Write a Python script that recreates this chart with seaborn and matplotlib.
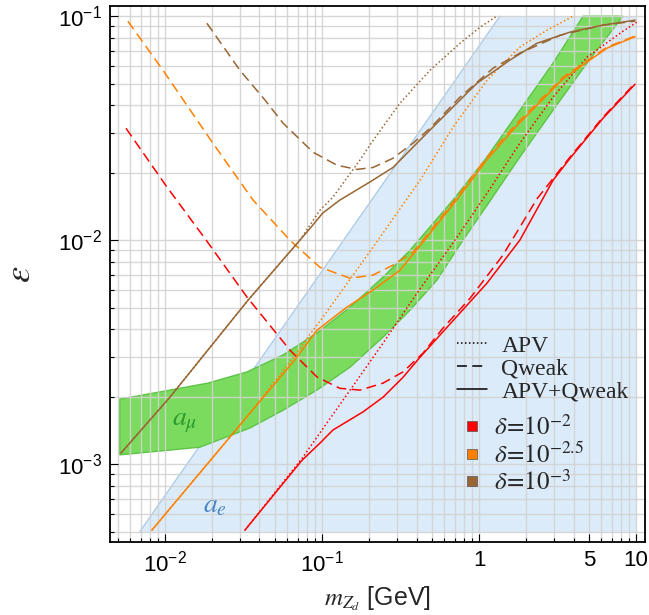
import numpy as np
import pandas as pd
import matplotlib
matplotlib.use("Agg")
import matplotlib.pyplot as plt
import seaborn as sns
from matplotlib.lines import Line2D
from matplotlib.ticker import LogLocator, NullFormatter

# ---------------- data ----------------
# red: delta = 1e-2
red_qweak_m = [0.00565, 0.0103, 0.0185, 0.0333, 0.0625, 0.0929, 0.130, 0.175, 0.245, 0.328, 0.44, 0.59, 0.877, 1.42, 2.34, 3.80, 6.16, 9.86]
red_qweak_eps = [0.0316, 0.01726, 0.0099, 0.00557, 0.00323, 0.00245, 0.00218, 0.00214, 0.0023, 0.00258, 0.00313, 0.00405, 0.0055, 0.00857, 0.0153, 0.0235, 0.0354, 0.0502]
red_comb_m = [0.0323, 0.0746, 0.097, 0.1175, 0.1824, 0.245, 0.328, 0.421, 0.635, 1.125, 1.82, 2.96, 3.80, 6.16, 9.86]
red_comb_eps = [0.000507, 0.00104, 0.00124, 0.00142, 0.00171, 0.00199, 0.00244, 0.0030, 0.00413, 0.00643, 0.0100, 0.0185, 0.0232, 0.0350, 0.0497]
red_apv_m = [0.0323, 0.0746, 0.151, 0.245, 0.403, 0.703, 1.125, 1.82, 2.96, 4.87, 7.91, 10.1]
red_apv_eps = [0.000507, 0.00106, 0.00214, 0.00347, 0.0058, 0.0100, 0.0162, 0.0271, 0.0435, 0.0656, 0.0839, 0.094]

# orange: delta = 10^-2.5
orange_qweak_m = [0.00581, 0.00971, 0.0202, 0.0364, 0.0625, 0.097, 0.151, 0.211, 0.283, 0.380, 0.44, 0.724, 1.125, 1.746, 3.43, 6.53, 9.86]
orange_qweak_eps = [0.095, 0.0574, 0.0271, 0.0151, 0.0100, 0.00757, 0.00676, 0.00698, 0.00773, 0.00884, 0.0100, 0.01556, 0.0235, 0.0333, 0.0534, 0.0728, 0.0815]
orange_comb_m = [0.00826, 0.0348, 0.0653, 0.0929, 0.144, 0.211, 0.314, 0.44, 0.724, 1.125, 1.746, 3.43, 6.53, 9.86]
orange_comb_eps = [0.000507, 0.00169, 0.00285, 0.00396, 0.00502, 0.00598, 0.00734, 0.0098, 0.0152, 0.0229, 0.0325, 0.0525, 0.0720, 0.0810]
orange_apv_m = [0.00826, 0.0348, 0.0653, 0.0814, 0.1015, 0.2275, 0.421, 0.683, 1.125, 1.82, 2.71, 3.97]
orange_apv_eps = [0.000507, 0.00169, 0.00297, 0.00369, 0.00453, 0.0100, 0.0185, 0.0319, 0.0518, 0.0728, 0.0866, 0.1]

# brown: delta = 1e-3
brown_qweak_m = [0.0185, 0.030, 0.0434, 0.0565, 0.0877, 0.1247, 0.167, 0.211, 0.283, 0.380, 0.488, 0.757, 1.23, 1.82, 3.28, 6.16, 9.86]
brown_qweak_eps = [0.093, 0.0574, 0.0422, 0.0333, 0.0247, 0.0216, 0.0207, 0.0211, 0.0232, 0.0271, 0.0316, 0.0435, 0.0586, 0.0684, 0.0822, 0.0912, 0.095]
brown_comb_m = [0.00525, 0.01076, 0.0338, 0.0724, 0.085, 0.101, 0.130, 0.2025, 0.283, 0.467, 0.683, 0.971, 1.575, 2.34, 3.80, 6.16, 9.86]
brown_comb_eps = [0.00112, 0.00199, 0.00539, 0.0100, 0.0114, 0.0132, 0.0151, 0.0182, 0.0211, 0.0301, 0.0393, 0.0502, 0.0637, 0.0757, 0.0849, 0.0912, 0.096]
brown_apv_m = [0.00525, 0.01076, 0.0338, 0.0724, 0.097, 0.1175, 0.1746, 0.202, 0.314, 0.488, 0.757, 1.015, 1.30]
brown_apv_eps = [0.00112, 0.00199, 0.00539, 0.0100, 0.0136, 0.01556, 0.0228, 0.0266, 0.0409, 0.0574, 0.0757, 0.0893, 0.1]

# a_mu band
amu_up_m = [0.00516, 0.01076, 0.0188, 0.0333, 0.0565, 0.0929, 0.151, 0.245, 0.364, 0.683, 1.125, 1.82, 2.96, 4.6]
amu_up_eps = [0.00195, 0.00214, 0.00230, 0.00258, 0.00307, 0.00385, 0.00502, 0.00684, 0.00902, 0.0151, 0.0235, 0.0380, 0.0617, 0.1]
amu_lo_m = [0.00516, 0.0167, 0.0348, 0.0565, 0.0929, 0.151, 0.245, 0.364, 0.540, 0.791, 1.125, 1.82, 2.96, 4.87, 8.26]
amu_lo_eps = [0.00110, 0.00119, 0.00145, 0.00174, 0.00214, 0.00271, 0.00369, 0.00487, 0.00663, 0.0100, 0.0143, 0.0235, 0.0380, 0.0617, 0.1]

# a_e excluded region (left boundary, extends to m = 10)
ae_m = [0.00693, 0.0607, 1.36]
ae_eps = [0.0005, 0.0044, 0.1]
ae_m_max = 10.0

x_ticks = [0.01, 0.1, 1, 5, 10]
x_ticklabels = [r'$\mathregular{10^{-2}}$', r'$\mathregular{10^{-1}}$', '1', '5', '10']
y_ticks = [1e-3, 1e-2, 1e-1]
y_ticklabels = [r'$\mathregular{10^{-3}}$', r'$\mathregular{10^{-2}}$', r'$\mathregular{10^{-1}}$']
legend_styles = ['APV', 'Qweak', 'APV+Qweak']
legend_deltas = [r'$\delta\!=\!10^{-2}$', r'$\delta\!=\!10^{-2.5}$', r'$\delta\!=\!10^{-3}$']

# ---------------- style ----------------
sns.set_theme(style="white")
plt.rcParams['font.family'] = ['Liberation Sans', 'DejaVu Sans']
plt.rcParams['mathtext.fontset'] = 'stix'

RED, ORANGE, BROWN = '#ff0000', '#ff8000', '#996633'
DOT = (0, (1, 1.6))
DASH = (0, (6.5, 3.5))
LW = 1.1

fig = plt.figure(figsize=(6.49, 6.15), dpi=100)
ax = fig.add_axes([0.1695, 0.1187, 0.8243, 0.8715])
ax.set_xscale('log')
ax.set_yscale('log')

# fills
ax.fill_betweenx(ae_eps, ae_m, ae_m_max, color='#dcebfa', lw=0, zorder=0.6)
sns.lineplot(x=ae_m, y=ae_eps, ax=ax, color='#a9cbe9', lw=1.0, sort=False, estimator=None, zorder=0.7)
ax.fill(np.r_[amu_up_m, amu_lo_m[::-1]], np.r_[amu_up_eps, amu_lo_eps[::-1]],
        facecolor='#7bdb5e', edgecolor='#5ec447', lw=1.0, zorder=0.8)

def curve(m, e, color, ls):
    sns.lineplot(x=m, y=e, ax=ax, color=color, lw=LW, linestyle=ls,
                 sort=False, estimator=None, zorder=3)

for col, (qm, qe, cm, ce, am, ae) in zip(
        [RED, ORANGE, BROWN],
        [(red_qweak_m, red_qweak_eps, red_comb_m, red_comb_eps, red_apv_m, red_apv_eps),
         (orange_qweak_m, orange_qweak_eps, orange_comb_m, orange_comb_eps, orange_apv_m, orange_apv_eps),
         (brown_qweak_m, brown_qweak_eps, brown_comb_m, brown_comb_eps, brown_apv_m, brown_apv_eps)]):
    curve(am, ae, col, DOT)
    curve(qm, qe, col, DASH)
    curve(cm, ce, col, '-')

ax.set_xlim(4.47e-3, 11.4)
ax.set_ylim(4.49e-4, 0.111)

# ticks & grid
ax.set_xticks(x_ticks)
ax.set_xticklabels(x_ticklabels)
ax.set_yticks(y_ticks)
ax.set_yticklabels(y_ticklabels)
ax.xaxis.set_minor_locator(LogLocator(base=10, subs=np.arange(2, 10)))
ax.yaxis.set_minor_locator(LogLocator(base=10, subs=np.arange(2, 10)))
ax.xaxis.set_minor_formatter(NullFormatter())
ax.yaxis.set_minor_formatter(NullFormatter())
ax.tick_params(which='both', direction='in', bottom=True, left=True, top=False, right=False,
               labelsize=16, colors='black', width=0.8)
ax.tick_params(which='major', length=6, pad=6)
ax.tick_params(which='minor', length=3)
ax.grid(True, which='both', color='#d2d2d2', lw=1.0, alpha=0.9)
ax.set_axisbelow('line')
for sp in ax.spines.values():
    sp.set_color('black')
    sp.set_linewidth(1.3)

ax.set_xlabel(r'$m_{Z_d}$ [GeV]', fontsize=18, labelpad=6)
ax.set_ylabel(r'$\varepsilon$', fontsize=26, labelpad=14)

# labels inside
ax.text(0.0134, 0.00154, r'$a_\mu$', color='#2a9a2a', fontsize=20, ha='center', va='center', zorder=4)
ax.text(0.0208, 0.000656, r'$a_e$', color='#4a86c6', fontsize=20, ha='center', va='center', zorder=4)

# legends
h1 = [Line2D([], [], color='black', lw=LW, ls=DOT),
      Line2D([], [], color='black', lw=LW, ls=DASH),
      Line2D([], [], color='black', lw=LW, ls='-')]
leg1 = ax.legend(h1, legend_styles, loc='upper left', bbox_to_anchor=(0.649, 0.386),
                 frameon=False, prop={'family': 'Liberation Serif', 'size': 17},
                 handlelength=1.27, handletextpad=0.6, labelspacing=0.05,
                 borderpad=0, borderaxespad=0)
ax.add_artist(leg1)
h2 = [Line2D([], [], marker='s', ls='none', color=c, markersize=6.5,
             markeredgecolor='#555555', markeredgewidth=0.5) for c in [RED, ORANGE, BROWN]]
leg2 = ax.legend(h2, legend_deltas, loc='upper left', bbox_to_anchor=(0.653, 0.237),
                 frameon=False, prop={'family': 'Liberation Serif', 'size': 18},
                 handlelength=1.0, handletextpad=0.4, labelspacing=0.1,
                 borderpad=0, borderaxespad=0)

fig.savefig('out.png', dpi=100)
